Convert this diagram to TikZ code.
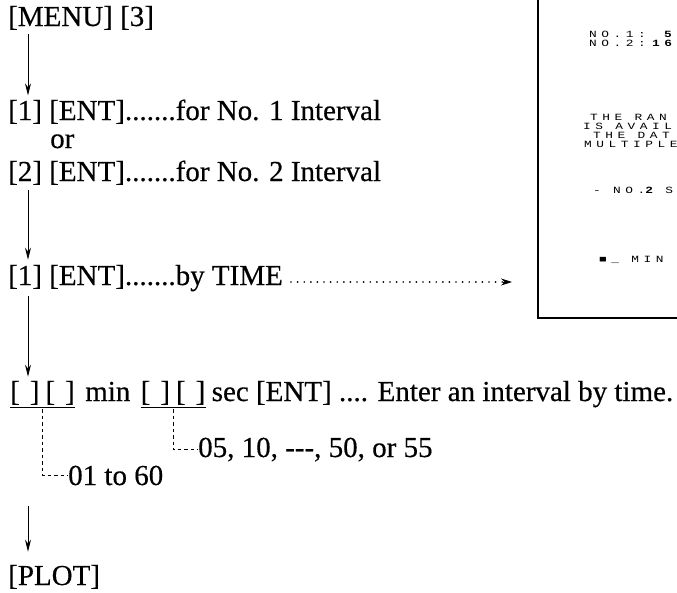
\documentclass[tikz,border=0pt]{standalone}
\usepackage{fontspec}
\setmainfont[FakeBold=0.4]{Liberation Serif}
\newfontfamily\lcdfont[FakeStretch=1.35,LetterSpace=48]{Liberation Mono}
\usetikzlibrary{arrows.meta,positioning}

\tikzset{
  keyline/.style={anchor=base west,inner sep=0pt,font=\fontsize{29}{31}\selectfont},
  flow/.style={line width=0.8pt,-{Stealth[length=12pt,width=6pt]}},
  leaderdots/.style={line width=1.9pt,line cap=round,dash pattern=on 0pt off 6.6pt},
  leadtip/.style={line width=0.8pt,-{Stealth[length=11pt,width=7pt]}},
  lead/.style={line width=0.8pt,dash pattern=on 3.5pt off 3pt},
  uline/.style={line width=1pt},
  lcd/.style={anchor=base west,inner sep=0pt,font=\lcdfont\fontsize{9.5}{10}\selectfont},
  lcdb/.style={lcd,font=\lcdfont\bfseries\fontsize{9.5}{10}\selectfont},
  screenframe/.style={line width=1.3pt},
}

\begin{document}
\begin{tikzpicture}[x=1pt,y=-1pt]
\clip (0,0) rectangle (677,592);

% key sequence
\node[keyline] (menu) at (8,26) {[MENU] [3]};
\node[keyline] (ent1) at (8,120) {[1] [ENT].......for No. 1 Interval};
\node[keyline] (or)   at (50,148) {or};
\node[keyline] (ent2) at (8,181) {[2] [ENT].......for No. 2 Interval};
\node[keyline] (time) at (8,285) {[1] [ENT].......by TIME};

% interval entry
\node[keyline] (minkeys) at (10,401) {[\hspace{10pt}]\hspace{6pt}[\hspace{10pt}]};
\node[keyline,right=10pt of minkeys.base east,anchor=base west] (minword) {min};
\node[keyline,right=10pt of minword.base east,anchor=base west] (seckeys) {[\hspace{10pt}]\hspace{6pt}[\hspace{10pt}]};
\node[keyline,right=6pt of seckeys.base east,anchor=base west] (entline) {sec [ENT] .... Enter an interval by time.};
\node[keyline] (to55) at (198,457) {05, 10, -{}-{}-, 50, or 55};
\node[keyline] (to60) at (68,485) {01 to 60};
\node[keyline] (plot) at (8,585) {[PLOT]};

\draw[uline] ([yshift=-6pt]minkeys.base west) -- ([yshift=-6pt]minkeys.base east);
\draw[uline] ([yshift=-6pt]seckeys.base west) -- ([yshift=-6pt]seckeys.base east);
\draw[lead] ([yshift=-8pt]minkeys.base) |- (to60.west);
\draw[lead] ([yshift=-8pt]seckeys.base) |- (to55.west);

\draw[flow] ([shift={(20,4)}]menu.south west) -- ([shift={(20,-4)}]ent1.north west);
\draw[flow] ([shift={(20,5)}]ent2.south west) -- ([shift={(20,-5)}]time.north west);
\draw[flow] ([shift={(20,5)}]time.south west) -- ([shift={(18,-4)}]minkeys.north west);
\draw[flow] ([shift={(-40,21)}]to60.south west) -- ([shift={(20,-13)}]plot.north west);

% display screen, cut off by the page edge
\coordinate (screenin) at (512,282);
\draw[leaderdots] ([shift={(8,-3)}]time.base east) -- ([xshift=-8pt]screenin);
\draw[leadtip] ([xshift=-9pt]screenin) -- (screenin);
\draw[screenframe] (538,-10) rectangle (700,318);
\node[lcd]  (no1)  at (589,37) {NO.1:};
\node[lcdb] (no1v) at (664,37) {5};
\node[lcd]  (no2)  at (589,46) {NO.2:};
\node[lcdb] (no2v) at (652,46) {16};
\node[lcd]  (msg1) at (590,120) {THE RAN};
\node[lcd]  (msg2) at (583,129) {IS AVAIL};
\node[lcd]  (msg3) at (593,138) {THE DAT};
\node[lcd]  (msg4) at (584,147) {MULTIPLE};
\node[lcd]  (sel)  at (593,193) {-~NO.{\bfseries 2}~S};
\node[lcd]  (cur)  at (599,262) {■\_~MIN};
\end{tikzpicture}
\end{document}
